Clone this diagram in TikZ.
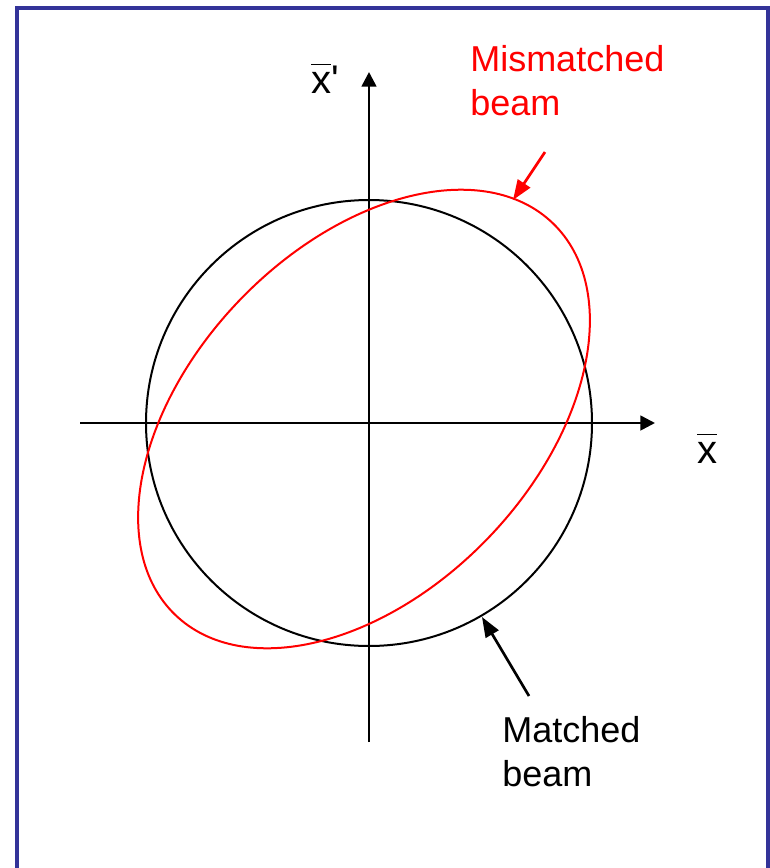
\documentclass[tikz,border=0pt]{standalone}
\usepackage{fontspec}
\setmainfont{Liberation Sans}
\usetikzlibrary{arrows.meta}

\definecolor{framecol}{RGB}{51,51,153}
\newcommand{\barx}{\leavevmode\rlap{\raisebox{0.7em}{\rule{0.5em}{1.1pt}}}x}

\tikzset{
	axis/.style={line width=2pt,-{Triangle[length=11pt,width=11pt]}},
	pointer/.style={line width=2pt,-{Triangle[length=15pt,width=11pt]}},
	label/.style={anchor=north west,inner sep=0pt,align=left,font=\fontsize{27}{33}\selectfont},
	axislabel/.style={anchor=base west,inner sep=0pt,font=\fontsize{30}{33}\selectfont}
}

\begin{document}
\begin{tikzpicture}[x=0.75pt,y=0.75pt,yscale=-1,xscale=1]
		
		\useasboundingbox (0,0) rectangle (769,868);
		
		% Shape: Rahmen
		\draw [color=framecol,line width=3pt] (17,868) -- (17,8) -- (767.5,8) -- (767.5,868) ;
		
		% Achsen
		\coordinate (o) at (369,423) ;
		\coordinate (xl) at (80,423) ;
		\coordinate (xr) at (655,423) ;
		\coordinate (yb) at (369,742) ;
		\coordinate (yt) at (369,72) ;
		\draw [axis] (xl) -- (xr) ;
		\draw [axis] (yb) -- (yt) ;
		
		% Shape: Kreis (matched beam)
		\draw [line width=1.5pt] (o) circle [radius=223] ;
		
		% Shape: gedrehte Ellipse (mismatched beam)
		\coordinate (e) at (364,419) ;
		\draw [color=red,line width=1.5pt,rotate around={-46:(e)}] (e) ellipse [x radius=272,y radius=172] ;
		
		% Text box
		\node [axislabel] (xlab) at (697,463) {\barx} ;
		\node [axislabel] (ylab) at (311,93) {\barx\textquotesingle} ;
		\node [label,color=red] (mis) at (470,45) {Mismatched\\beam} ;
		\node [label] (mat) at (502,716) {Matched\\beam} ;
		
		% Pfeile
		\coordinate (mistip) at (513,200) ;
		\coordinate (mistail) at (545,152) ;
		\coordinate (mattip) at (482,617) ;
		\coordinate (mattail) at (529,696) ;
		\draw [pointer,color=red] (mistail) -- (mistip) ;
		\draw [pointer] (mattail) -- (mattip) ;
		
	\end{tikzpicture}
\end{document}
